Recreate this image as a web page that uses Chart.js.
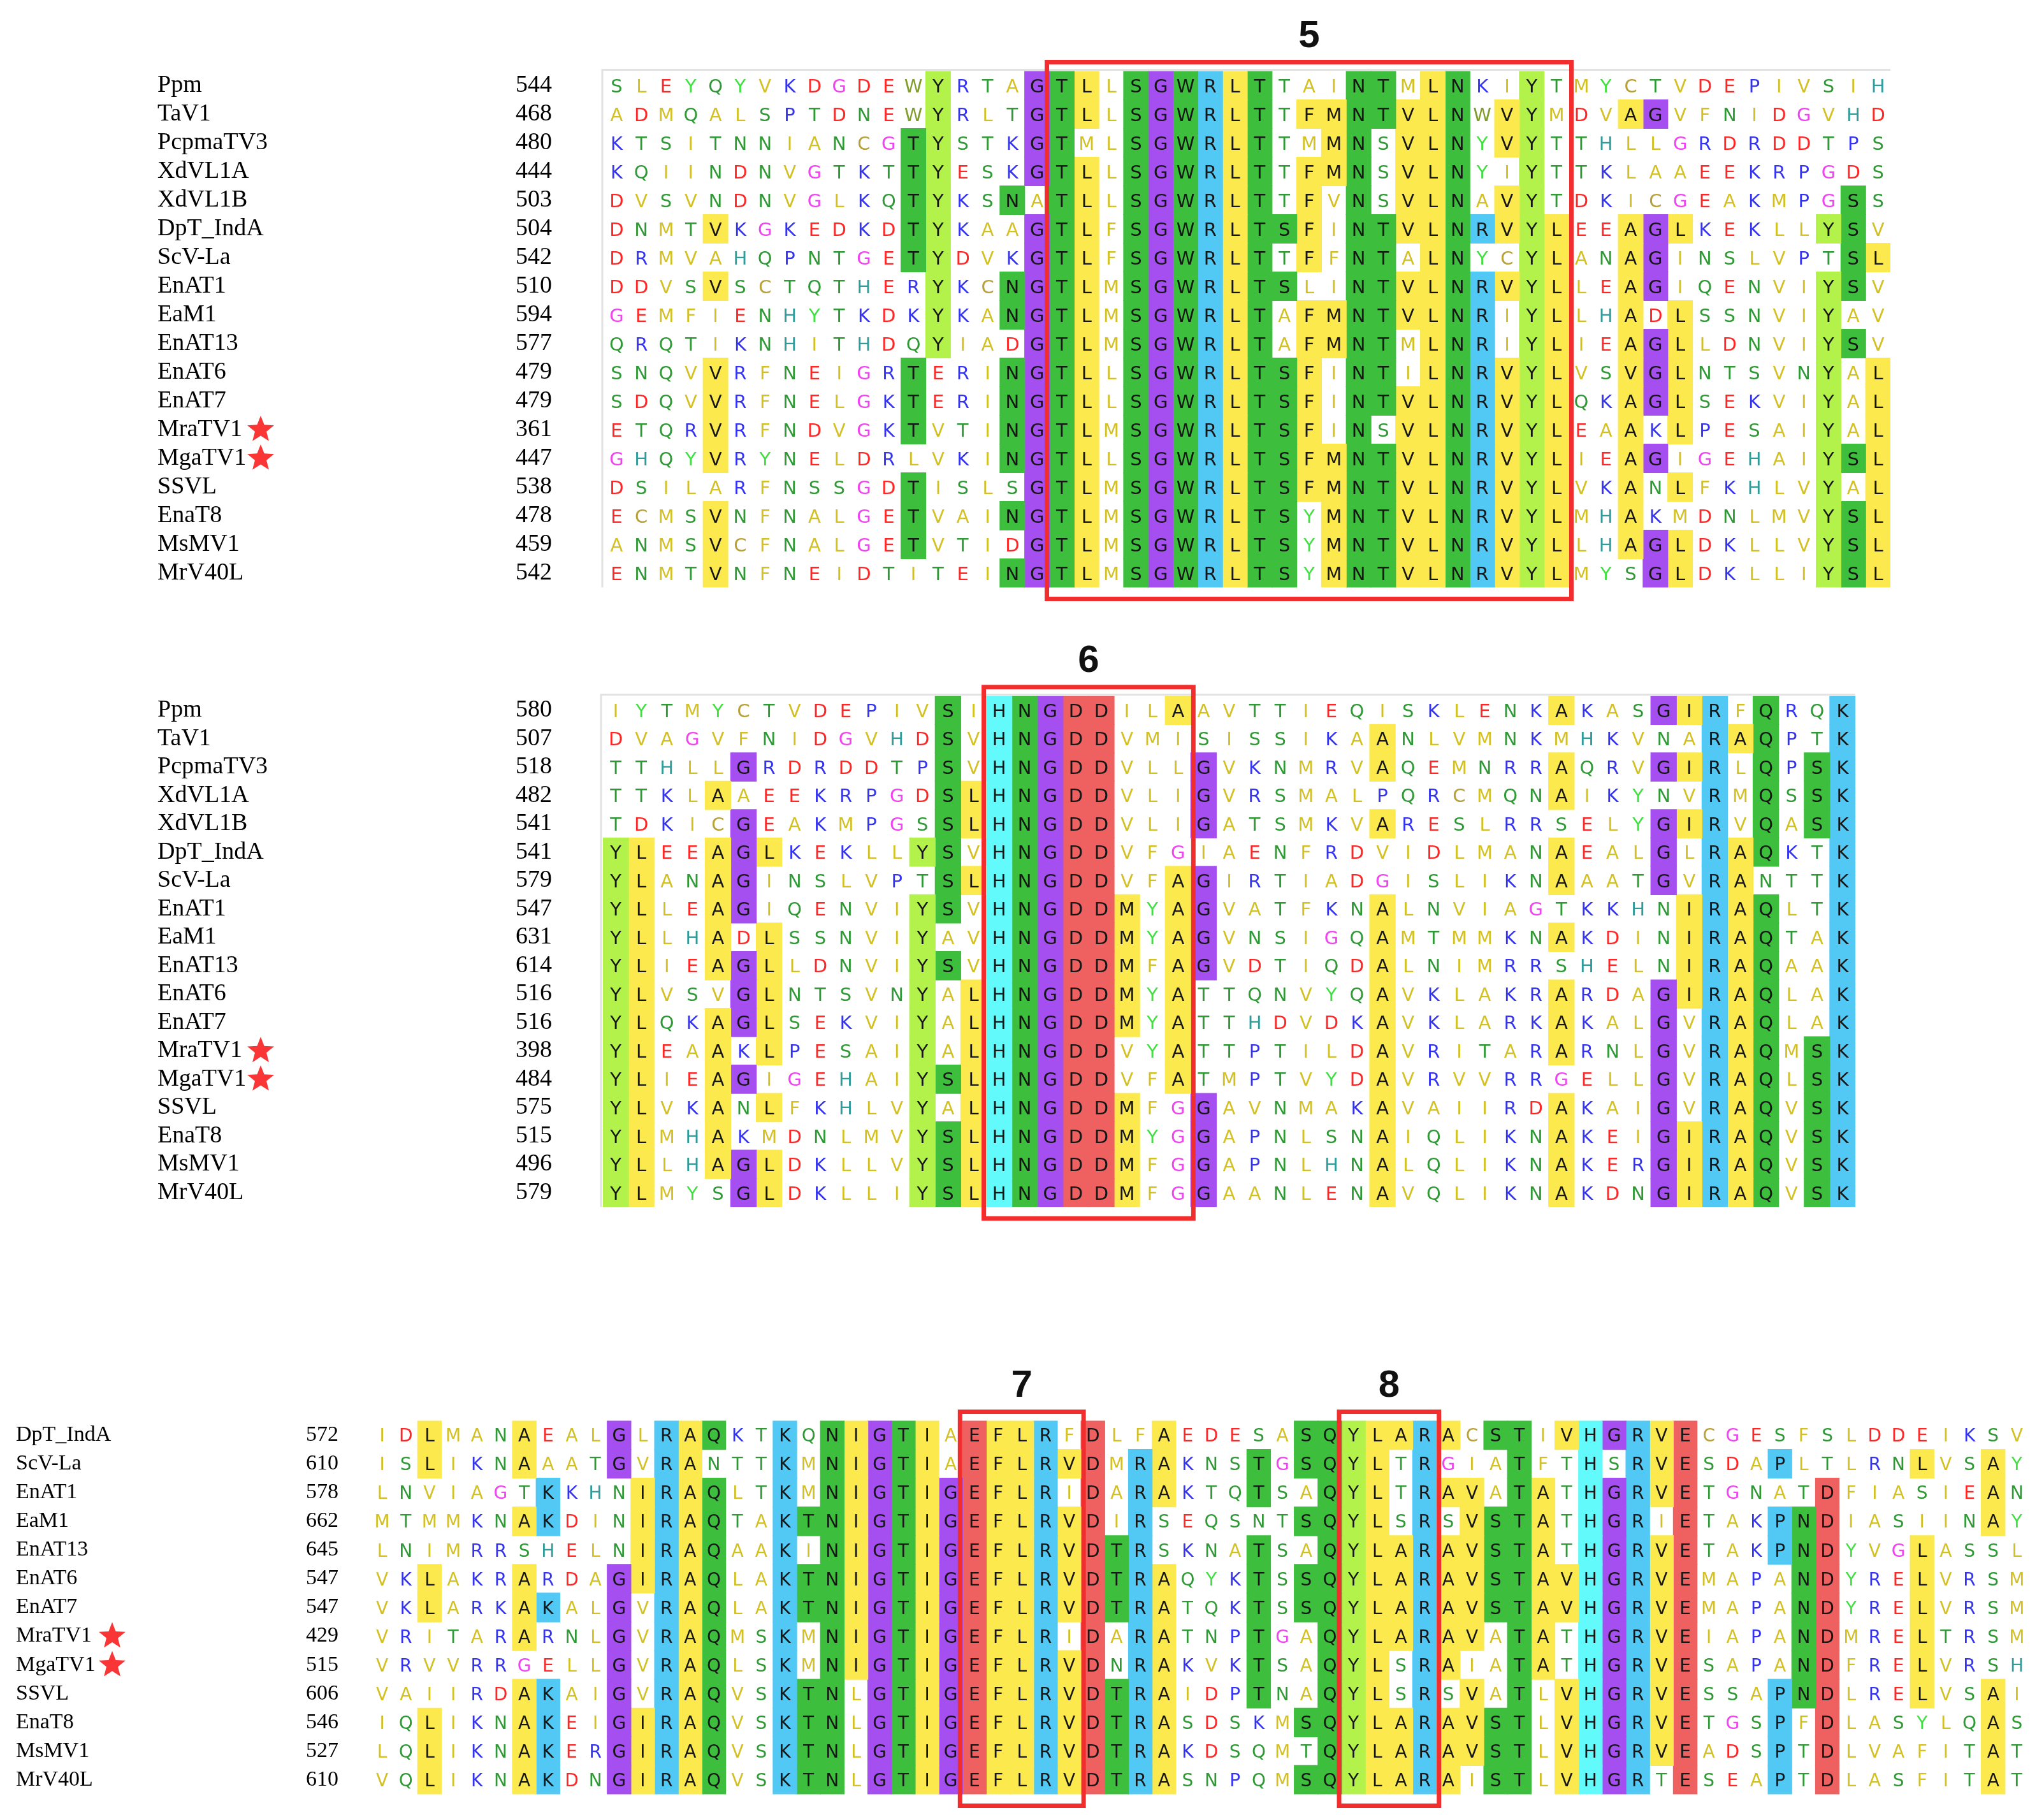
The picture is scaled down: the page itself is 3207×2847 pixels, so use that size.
<!DOCTYPE html>
<html>
<head>
<meta charset="utf-8">
<script src="https://cdn.jsdelivr.net/npm/chart.js@4.4.1/dist/chart.umd.min.js"></script>
<style>
  html, body { margin: 0; padding: 0; background: #fff; }
  #page { position: relative; width: 3207px; height: 2847px; overflow: hidden; background: #fff; }
  #page canvas { position: absolute; left: 0; }
</style>
</head>
<body>
<div id="page">
  <canvas id="block1" width="3207" height="960" style="top:0px"></canvas>
  <canvas id="block2" width="3207" height="940" style="top:980px"></canvas>
  <canvas id="block3" width="3207" height="727" style="top:2120px"></canvas>
</div>
<script>
// ---- alignment data ----
// shade codes: y yellow, g green, l lime, p purple, b blue (R/K/P), c cyan (H), r red (D/E), . none

const names1 = ['Ppm', 'TaV1', 'PcpmaTV3', 'XdVL1A', 'XdVL1B', 'DpT_IndA', 'ScV-La', 'EnAT1', 'EaM1',
  'EnAT13', 'EnAT6', 'EnAT7', 'MraTV1', 'MgaTV1', 'SSVL', 'EnaT8', 'MsMV1', 'MrV40L'];
const starts1 = [544, 468, 480, 444, 503, 504, 542, 510, 594, 577, 479, 479, 361, 447, 538, 478, 459, 542];
const seq1 = [
  'SLEYQYVKDGDEWYRTAGTLLSGWRLTTAINTMLNKIYTMYCTVDEPIVSIH',
  'ADMQALSPTDNEWYRLTGTLLSGWRLTTFMNTVLNWVYMDVAGVFNIDGVHD',
  'KTSITNNIANCGTYSTKGTMLSGWRLTTMMNSVLNYVYTTHLLGRDRDDTPS',
  'KQIINDNVGTKTTYESKGTLLSGWRLTTFMNSVLNYIYTTKLAAEEKRPGDS',
  'DVSVNDNVGLKQTYKSNATLLSGWRLTTFVNSVLNAVYTDKICGEAKMPGSS',
  'DNMTVKGKEDKDTYKAAGTLFSGWRLTSFINTVLNRVYLEEAGLKEKLLYSV',
  'DRMVAHQPNTGETYDVKGTLFSGWRLTTFFNTALNYCYLANAGINSLVPTSL',
  'DDVSVSCTQTHERYKCNGTLMSGWRLTSLINTVLNRVYLLEAGIQENVIYSV',
  'GEMFIENHYTKDKYKANGTLMSGWRLTAFMNTVLNRIYLLHADLSSNVIYAV',
  'QRQTIKNHITHDQYIADGTLMSGWRLTAFMNTMLNRIYLIEAGLLDNVIYSV',
  'SNQVVRFNEIGRTERINGTLLSGWRLTSFINTILNRVYLVSVGLNTSVNYAL',
  'SDQVVRFNELGKTERINGTLLSGWRLTSFINTVLNRVYLQKAGLSEKVIYAL',
  'ETQRVRFNDVGKTVTINGTLMSGWRLTSFINSVLNRVYLEAAKLPESAIYAL',
  'GHQYVRYNELDRLVKINGTLLSGWRLTSFMNTVLNRVYLIEAGIGEHAIYSL',
  'DSILARFNSSGDTISLSGTLMSGWRLTSFMNTVLNRVYLVKANLFKHLVYAL',
  'ECMSVNFNALGETVAINGTLMSGWRLTSYMNTVLNRVYLMHAKMDNLMVYSL',
  'ANMSVCFNALGETVTIDGTLMSGWRLTSYMNTVLNRVYLLHAGLDKLLVYSL',
  'ENMTVNFNEIDTITEINGTLMSGWRLTSYMNTVLNRVYLMYSGLDKLLIYSL'
];
const shade1 = [
  '..........' + '...l...pgy' + '.gpgbyg...' + 'gg.yg..l..' + '..........' + '..',
  '..........' + '...l...pgy' + '.gpgbyg.yy' + 'ggyyg.yl..' + '.yp.......' + '..',
  '..........' + '..gl...pg.' + '.gpgbyg..y' + 'g.yyg.yl..' + '..........' + '..',
  '..........' + '..gl...pgy' + '.gpgbyg.yy' + 'g.yyg..l..' + '..........' + '..',
  '..........' + '..gl..g.gy' + '.gpgbyg.y.' + 'g.yyg.yl..' + '..........' + 'g.',
  '....y.....' + '..gl...pgy' + '.gpgbyggy.' + 'ggyygbyly.' + '.ypy.....l' + 'g.',
  '..........' + '..gl...pgy' + '.gpgbyg.y.' + 'gg.yg..ly.' + '.yp.......' + 'gy',
  '....y.....' + '...l..gpgy' + '.gpgbygg..' + 'ggyygbyly.' + '.yp......l' + 'g.',
  '..........' + '...l..gpgy' + '.gpgbyg.yy' + 'ggyygb.ly.' + '.y.y.....l' + '..',
  '..........' + '...l...pgy' + '.gpgbyg.yy' + 'gg.ygb.ly.' + '.ypy.....l' + 'g.',
  '....y.....' + '..g...gpgy' + '.gpgbyggy.' + 'gg.ygbyly.' + '.ypy.....l' + '.y',
  '....y.....' + '..g...gpgy' + '.gpgbyggy.' + 'ggyygbyly.' + '.ypy.....l' + '.y',
  '....y.....' + '..g...gpgy' + '.gpgbyggy.' + 'g.yygbyly.' + '.y.y.....l' + '.y',
  '....y.....' + '......gpgy' + '.gpgbyggyy' + 'ggyygbyly.' + '.yp......l' + 'gy',
  '..........' + '..g....pgy' + '.gpgbyggyy' + 'ggyygbyly.' + '.y.y.....l' + '.y',
  '....y.....' + '..g...gpgy' + '.gpgbygg.y' + 'ggyygbyly.' + '.y.......l' + 'gy',
  '....y.....' + '..g....pgy' + '.gpgbygg.y' + 'ggyygbyly.' + '.ypy.....l' + 'gy',
  '....y.....' + '......gpgy' + '.gpgbygg.y' + 'ggyygbyly.' + '..py.....l' + 'gy'
];

const names2 = names1;
const starts2 = [580, 507, 518, 482, 541, 541, 579, 547, 631, 614, 516, 516, 398, 484, 575, 515, 496, 579];
const seq2 = [
  'IYTMYCTVDEPIVSIHNGDDILAAV' + 'TTIEQISKLENKAKASGIRFQRQK',
  'DVAGVFNIDGVHDSVHNGDDVMISI' + 'SSIKAANLVMNKMHKVNARAQPTK',
  'TTHLLGRDRDDTPSVHNGDDVLLGV' + 'KNMRVAQEMNRRAQRVGIRLQPSK',
  'TTKLAAEEKRPGDSLHNGDDVLIGV' + 'RSMALPQRCMQNAIKYNVRMQSSK',
  'TDKICGEAKMPGSSLHNGDDVLIGA' + 'TSMKVARESLRRSELYGIRVQASK',
  'YLEEAGLKEKLLYSVHNGDDVFGIA' + 'ENFRDVIDLMANAEALGLRAQKTK',
  'YLANAGINSLVPTSLHNGDDVFAGI' + 'RTIADGISLIKNAAATGVRANTTK',
  'YLLEAGIQENVIYSVHNGDDMYAGV' + 'ATFKNALNVIAGTKKHNIRAQLTK',
  'YLLHADLSSNVIYAVHNGDDMYAGV' + 'NSIGQAMTMMKNAKDINIRAQTAK',
  'YLIEAGLLDNVIYSVHNGDDMFAGV' + 'DTIQDALNIMRRSHELNIRAQAAK',
  'YLVSVGLNTSVNYALHNGDDMYATT' + 'QNVYQAVKLAKRARDAGIRAQLAK',
  'YLQKAGLSEKVIYALHNGDDMYATT' + 'HDVDKAVKLARKAKALGVRAQLAK',
  'YLEAAKLPESAIYALHNGDDVYATT' + 'PTILDAVRITARARNLGVRAQMSK',
  'YLIEAGIGEHAIYSLHNGDDVFATM' + 'PTVYDAVRVVRRGELLGVRAQLSK',
  'YLVKANLFKHLVYALHNGDDMFGGA' + 'VNMAKAVAIIRDAKAIGVRAQVSK',
  'YLMHAKMDNLMVYSLHNGDDMYGGA' + 'PNLSNAIQLIKNAKEIGIRAQVSK',
  'YLLHAGLDKLLVYSLHNGDDMFGGA' + 'PNLHNALQLIKNAKERGIRAQVSK',
  'YLMYSGLDKLLIYSLHNGDDMFGGA' + 'ANLENAVQLIKNAKDNGIRAQVSK'
];
const shade2 = [
  '..........' + '...g.cgprr' + '..y.......' + '.......y..' + '.pyb.g..b',
  '..........' + '...g.cgprr' + '..........' + 'y.........' + '...byg..b',
  '.....p....' + '...g.cgprr' + '...p......' + 'y......y..' + '.pyb.g.gb',
  '....y.....' + '...gycgprr' + '...p......' + '.......y..' + '...b.g.gb',
  '.....p....' + '...gycgprr' + '...p......' + 'y.........' + '.pyb.g.gb',
  'ly..ypy...' + '..lg.cgprr' + '..........' + '.......y..' + '.p.byg..b',
  'ly..yp....' + '...gycgprr' + '..yp......' + '.......y..' + '.p.by...b',
  'ly..yp....' + '..lg.cgprr' + 'y.yp......' + 'y.........' + '..ybyg..b',
  'ly..y.y...' + '..l..cgprr' + 'y.yp......' + 'y......y..' + '..ybyg..b',
  'ly..ypy...' + '..lg.cgprr' + 'y.yp......' + 'y.........' + '..ybyg..b',
  'ly...py...' + '..l.ycgprr' + 'y.y.......' + 'y......y..' + '.pybyg..b',
  'ly..ypy...' + '..l.ycgprr' + 'y.y.......' + 'y......y..' + '.p.byg..b',
  'ly..y.y...' + '..l.ycgprr' + '..y.......' + 'y......y..' + '.p.byg.gb',
  'ly..yp....' + '..lgycgprr' + '..y.......' + 'y.........' + '.p.byg.gb',
  'ly..y.y...' + '..l.ycgprr' + 'y..p......' + 'y......y..' + '.p.byg.gb',
  'ly..y.....' + '..lgycgprr' + 'y..p......' + 'y......y..' + '.pybyg.gb',
  'ly..ypy...' + '..lgycgprr' + 'y..p......' + 'y......y..' + '.pybyg.gb',
  'ly...py...' + '..lgycgprr' + 'y..p......' + 'y......y..' + '.pybyg.gb'
];

const names3 = ['DpT_IndA', 'ScV-La', 'EnAT1', 'EaM1', 'EnAT13', 'EnAT6', 'EnAT7', 'MraTV1', 'MgaTV1',
  'SSVL', 'EnaT8', 'MsMV1', 'MrV40L'];
const starts3 = [572, 610, 578, 662, 645, 547, 547, 429, 515, 606, 546, 527, 610];
const seq3 = [
  'IDLMANAEALGLRAQKTKQNIGT' + 'IAEFLRFDLFAEDESASQYLARA' + 'CSTIVHGRVECGESFSLDDEIKSV',
  'ISLIKNAAATGVRANTTKMNIGT' + 'IAEFLRVDMRAKNSTGSQYLTRG' + 'IATFTHSRVESDAPLTLRNLVSAY',
  'LNVIAGTKKHNIRAQLTKMNIGT' + 'IGEFLRIDARAKTQTSAQYLTRA' + 'VATATHGRVETGNATDFIASIEAN',
  'MTMMKNAKDINIRAQTAKTNIGT' + 'IGEFLRVDIRSEQSNTSQYLSRS' + 'VSTATHGRIETAKPNDIASIINAY',
  'LNIMRRSHELNIRAQAAKINIGT' + 'IGEFLRVDTRSKNATSAQYLARA' + 'VSTATHGRVETAKPNDYVGLASSL',
  'VKLAKRARDAGIRAQLAKTNIGT' + 'IGEFLRVDTRAQYKTSSQYLARA' + 'VSTAVHGRVEMAPANDYRELVRSM',
  'VKLARKAKALGVRAQLAKTNIGT' + 'IGEFLRVDTRATQKTSSQYLARA' + 'VSTAVHGRVEMAPANDYRELVRSM',
  'VRITARARNLGVRAQMSKMNIGT' + 'IGEFLRIDARATNPTGAQYLARA' + 'VATATHGRVEIAPANDMRELTRSM',
  'VRVVRRGELLGVRAQLSKMNIGT' + 'IGEFLRVDNRAKVKTSAQYLSRA' + 'IATATHGRVESAPANDFRELVRSH',
  'VAIIRDAKAIGVRAQVSKTNLGT' + 'IGEFLRVDTRAIDPTNAQYLSRS' + 'VATLVHGRVESSAPNDLRELVSAI',
  'IQLIKNAKEIGIRAQVSKTNLGT' + 'IGEFLRVDTRASDSKMSQYLARA' + 'VSTLVHGRVETGSPFDLASYLQAS',
  'LQLIKNAKERGIRAQVSKTNLGT' + 'IGEFLRVDTRAKDSQMTQYLARA' + 'VSTLVHGRVEADSPTDLVAFITAT',
  'VQLIKNAKDNGIRAQVSKTNLGT' + 'IGEFLRVDTRASNPQMSQYLARA' + 'ISTLVHGRTESEAPTDLASFITAT'
];
const shade3 = [
  '..y...y...' + 'p.byg..b.g' + 'ypgy.ryyb.' + 'r..y.....g' + 'glyyby.gg.' + 'ycpbyr....' + '..........',
  '..y...y...' + 'p.by...b.g' + 'ypgy.ryyby' + 'r.by...g.g' + 'gly.b...g.' + '.c.byr...b' + '.....y..y.',
  '.......b..' + '.ybyg..b.g' + 'ypgypryyb.' + 'r.by...g..' + 'gly.byy.gy' + '.cpbyr....' + '.r......y.',
  '......yb..' + '.ybyg..bgg' + 'ypgypryyby' + 'r.b......g' + 'gly.b.yggy' + '.cpb.r...b' + 'gr......y.',
  '..........' + '.ybyg..b.g' + 'ypgypryyby' + 'rgb....g..' + 'glyybyyggy' + '.cpbyr...b' + 'gr...y....',
  '..y...y...' + 'pybyg..bgg' + 'ypgypryyby' + 'rgby...g.g' + 'glyybyyggy' + 'ycpbyr....' + 'gr...y....',
  '..y...yb..' + 'p.byg..bgg' + 'ypgypryyby' + 'rgby...g.g' + 'glyybyyggy' + 'ycpbyr....' + 'gr...y....',
  '......y...' + 'p.byg..b.g' + 'ypgypryyb.' + 'r.by...g..' + 'glyybyy.gy' + '.cpbyr....' + 'gr...y....',
  '..........' + 'p.byg..b.g' + 'ypgypryyby' + 'r.by...g..' + 'gly.by..gy' + '.cpbyr....' + 'gr...y....',
  '......yb..' + 'p.byg..bgg' + '.pgypryyby' + 'rgby...g..' + 'gly.b.y.g.' + 'ycpbyr...b' + 'gr...y..y.',
  '..y...yb..' + 'pybyg..bgg' + '.pgypryyby' + 'rgby.....g' + 'glyybyygg.' + 'ycpbyr...b' + '.r......y.',
  '..y...yb..' + 'pybyg..bgg' + '.pgypryyby' + 'rgby......' + 'glyybyygg.' + 'ycpbyr...b' + '.r......y.',
  '..y...yb..' + 'pybyg..bgg' + '.pgypryyby' + 'rgby.....g' + 'glyyby.gg.' + 'ycpb.r...b' + '.r......y.'
];

// boxed motifs: label, block, first and last column
const motifLabels = ['5', '6', '7', '8'];
const motifBlock = [1, 2, 3, 3];
const motifFrom = [19, 16, 26, 42];
const motifTo = [39, 23, 30, 45];

const starred = ['MraTV1', 'MgaTV1'];

// ---- styles ----
const SHADE = { y: '#fbe94e', g: '#3dbf3d', l: '#b3f24a', p: '#a54ff0', b: '#52c8f5', c: '#62fafa', r: '#ef6060' };
const INK = {
  A: '#d3c023', I: '#d3c023', L: '#d3c023', M: '#d3c023', F: '#d3c023', V: '#d3c023',
  W: '#7f9c2c', C: '#b8a13a', S: '#2f9a35', T: '#2f9a35', N: '#2f9a35', Q: '#2f9a35',
  D: '#ff2626', E: '#ff2626', K: '#3434f0', R: '#3434f0', P: '#3434f0', H: '#2f9c9c',
  G: '#f044f0', Y: '#3fe03f'
};
const BOX_RED = '#f22d2d';

function star(ctx, cx, cy, outer, inner) {
  ctx.beginPath();
  for (let i = 0; i < 10; i++) {
    const rad = i % 2 === 0 ? outer : inner;
    const a = -Math.PI / 2 + i * Math.PI / 5;
    const px = cx + rad * Math.cos(a), py = cy + rad * Math.sin(a);
    if (i === 0) ctx.moveTo(px, py); else ctx.lineTo(px, py);
  }
  ctx.closePath();
  ctx.fill();
}

function makeResiduePlugin(blockNo, names, seqs, shades, look) {
  return {
    id: 'residues' + blockNo,
    afterDatasetsDraw(chart) {
      const { ctx, chartArea: area, scales: { x, y } } = chart;
      ctx.save();

      // faint frame along the top and left of the alignment
      if (look.frame) {
        ctx.strokeStyle = '#e2e2e2';
        ctx.lineWidth = 3;
        ctx.beginPath();
        ctx.moveTo(area.left - 3, area.bottom);
        ctx.lineTo(area.left - 3, area.top - 2);
        ctx.lineTo(area.right, area.top - 2);
        ctx.stroke();
      }

      // residue letters
      ctx.font = look.resFont + 'px "DejaVu Sans"';
      ctx.textAlign = 'center';
      ctx.textBaseline = 'alphabetic';
      const lift = look.resFont * 0.729 / 2;
      seqs.forEach((s, r) => {
        const py = y.getPixelForValue(r) + lift;
        for (let c = 0; c < s.length; c++) {
          const ch = s[c];
          ctx.fillStyle = shades[r][c] === '.' ? (INK[ch] || '#555') : '#161616';
          ctx.fillText(ch, x.getPixelForValue(c + 1), py);
        }
      });

      // motif boxes and their numbers
      motifLabels.forEach((lab, i) => {
        if (motifBlock[i] !== blockNo) return;
        const x0 = x.getPixelForValue(motifFrom[i] - 0.5) - 4;
        const x1 = x.getPixelForValue(motifTo[i] + 0.5) + 4;
        const y0 = area.top - 14;
        const y1 = area.bottom + 18;
        ctx.strokeStyle = BOX_RED;
        ctx.lineWidth = 7;
        ctx.strokeRect(x0, y0, x1 - x0, y1 - y0);
        ctx.fillStyle = '#111';
        ctx.font = 'bold 60px "Liberation Sans"';
        ctx.textAlign = 'center';
        ctx.fillText(lab, (x0 + x1) / 2, y0 - 24);
      });

      // red stars next to the marked sequences
      ctx.fillStyle = '#f93535';
      names.forEach((nm, r) => {
        if (starred.includes(nm)) star(ctx, look.starX, y.getPixelForValue(r), 22, 9.5);
      });
      ctx.restore();
    }
  };
}

function drawBlock(blockNo, canvasId, names, starts, seqs, shades, look) {
  const n = seqs[0].length;
  const datasets = [];
  for (let c = 0; c < n; c++) {
    datasets.push({
      data: shades.map(row => row[c] === '.' ? null : [c + 0.5, c + 1.5]),
      backgroundColor: shades.map(row => SHADE[row[c]] || 'rgba(0,0,0,0)'),
      borderWidth: 0,
      borderSkipped: false,
      grouped: false,
      barPercentage: 1,
      categoryPercentage: 1,
      inflateAmount: 0.6
    });
  }
  const tickFont = { family: 'Liberation Serif', size: look.nameFont };
  new Chart(document.getElementById(canvasId), {
    type: 'bar',
    data: { labels: names, datasets: datasets },
    options: {
      indexAxis: 'y',
      responsive: false,
      devicePixelRatio: 1,
      animation: false,
      events: [],
      layout: { padding: look.padding },
      plugins: { legend: { display: false }, tooltip: { enabled: false } },
      scales: {
        x: { type: 'linear', min: 0.5, max: n + 0.5, display: false },
        y: {
          type: 'category',
          position: 'left',
          weight: 2,
          grid: { display: false },
          border: { display: false },
          ticks: { autoSkip: false, crossAlign: 'far', color: '#000', font: tickFont },
          afterFit(scale) { scale.width = look.namesW; }
        },
        nums: {
          type: 'category',
          position: 'left',
          weight: 1,
          offset: true,
          labels: starts.map(String),
          grid: { display: false },
          border: { display: false },
          ticks: { autoSkip: false, crossAlign: 'far', color: '#000', font: tickFont },
          afterFit(scale) { scale.width = look.numsW; }
        }
      }
    },
    plugins: [makeResiduePlugin(blockNo, names, seqs, shades, look)]
  });
}

drawBlock(1, 'block1', names1, starts1, seq1, shade1, {
  padding: { top: 111.5, bottom: 38.5, left: 247, right: 241 },
  namesW: 562, numsW: 139, nameFont: 38, resFont: 29, starX: 409, frame: true
});
drawBlock(2, 'block2', names2, starts2, seq2, shade2, {
  padding: { top: 111.75, bottom: 26.75, left: 247, right: 296 },
  namesW: 562, numsW: 137, nameFont: 38, resFont: 29, starX: 409, frame: true
});
drawBlock(3, 'block3', names3, starts3, seq3, shade3, {
  padding: { top: 108.5, bottom: 32.5, left: 25, right: 24 },
  namesW: 455, numsW: 101, nameFont: 34, resFont: 28, starX: 176, frame: false
});
</script>
</body>
</html>
